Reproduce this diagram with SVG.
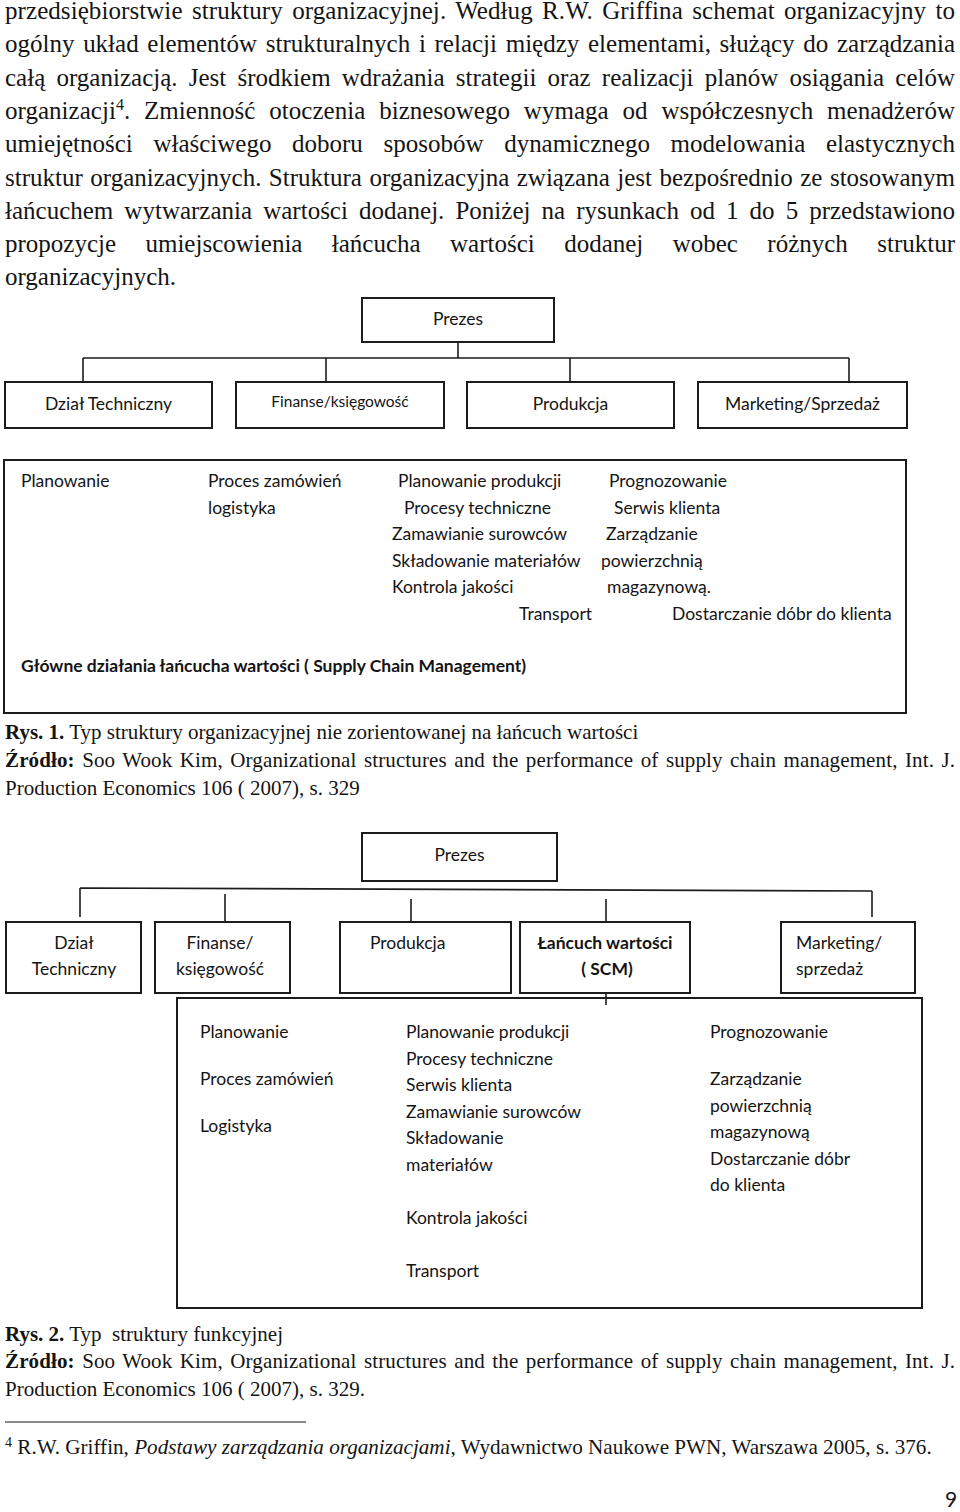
<svg xmlns="http://www.w3.org/2000/svg" width="960" height="1512" viewBox="0 0 960 1512">
<style>
.body{font-family:"Liberation Serif","Times New Roman",serif;font-size:25px;fill:#141414}
.cap{font-family:"Liberation Serif","Times New Roman",serif;font-size:21px;fill:#141414}
.fn{font-family:"Liberation Serif","Times New Roman",serif;font-size:21.15px;fill:#141414}
.b{font-weight:bold}
.it{font-style:italic}
.d{font-family:Lato,"Liberation Sans",sans-serif;font-size:17.5px;fill:#141414}
.ds{font-size:15.5px}
.pg{font-family:Lato,"Liberation Sans",sans-serif;font-size:21px;fill:#141414}
.mid{text-anchor:middle}
.box{fill:none;stroke:#1c1c1c;stroke-width:2}
.con{fill:none;stroke:#1c1c1c;stroke-width:1.6}
</style>
<rect width="960" height="1512" fill="#ffffff"/>

<g id="paragraph">
<text class="body" x="5" y="19" word-spacing="3.06" textLength="950" lengthAdjust="spacing">przedsiębiorstwie struktury organizacyjnej. Według R.W. Griffina schemat organizacyjny to</text>
<text class="body" x="5" y="52.3" word-spacing="2.45" textLength="950" lengthAdjust="spacing">ogólny układ elementów strukturalnych i relacji między elementami, służący do zarządzania</text>
<text class="body" x="5" y="85.6" word-spacing="4.96" textLength="950" lengthAdjust="spacing">całą organizacją. Jest środkiem wdrażania strategii oraz realizacji planów osiągania celów</text>
<text class="body" x="5" y="118.9" word-spacing="7.6" textLength="950" lengthAdjust="spacing">organizacji<tspan font-size="16" dy="-9">4</tspan><tspan dy="9">. Zmienność otoczenia biznesowego wymaga od współczesnych menadżerów</tspan></text>
<text class="body" x="5" y="152.2" word-spacing="14.4" textLength="950" lengthAdjust="spacing">umiejętności właściwego doboru sposobów dynamicznego modelowania elastycznych</text>
<text class="body" x="5" y="185.5" word-spacing="1.16" textLength="950" lengthAdjust="spacing">struktur organizacyjnych. Struktura organizacyjna związana jest bezpośrednio ze stosowanym</text>
<text class="body" x="5" y="218.8" word-spacing="4.8" textLength="950" lengthAdjust="spacing">łańcuchem wytwarzania wartości dodanej. Poniżej na rysunkach od 1 do 5 przedstawiono</text>
<text class="body" x="5" y="252.1" word-spacing="23.1" textLength="950" lengthAdjust="spacing">propozycje umiejscowienia łańcucha wartości dodanej wobec różnych struktur</text>
<text class="body" x="5" y="285.4">organizacyjnych.</text>
</g>

<g id="fig1-connectors">
<path class="con" d="M458,342 V358 M83,358 H849 M83,358 V382 M326,358 V382 M570,358 V382 M849,358 V382"/>
</g>

<g id="fig1-prezes">
<rect class="box" x="362" y="298" width="192" height="44"/>
<text class="d mid" x="458" y="325">Prezes</text>
</g>
<g id="fig1-dzial-techniczny">
<rect class="box" x="5" y="382" width="207" height="46"/>
<text class="d mid" x="108.5" y="410">Dział Techniczny</text>
</g>
<g id="fig1-finanse">
<rect class="box" x="236" y="382" width="208" height="46"/>
<text class="d ds mid" x="340" y="407">Finanse/księgowość</text>
</g>
<g id="fig1-produkcja">
<rect class="box" x="467" y="382" width="207" height="46"/>
<text class="d mid" x="570.5" y="410">Produkcja</text>
</g>
<g id="fig1-marketing">
<rect class="box" x="698" y="382" width="209" height="46"/>
<text class="d mid" x="802.5" y="410">Marketing/Sprzedaż</text>
</g>

<g id="fig1-scm">
<rect class="box" x="4" y="460" width="902" height="253"/>
<text class="d" x="21" y="487">Planowanie</text>
<text class="d" x="208" y="487">Proces zamówień</text>
<text class="d" x="208" y="513.5">logistyka</text>
<text class="d" x="398" y="487">Planowanie produkcji</text>
<text class="d" x="404" y="513.5">Procesy techniczne</text>
<text class="d" x="392" y="540">Zamawianie surowców</text>
<text class="d" x="392" y="566.5">Składowanie materiałów</text>
<text class="d" x="392" y="593">Kontrola jakości</text>
<text class="d" x="519" y="619.5">Transport</text>
<text class="d" x="609" y="487">Prognozowanie</text>
<text class="d" x="614" y="513.5">Serwis klienta</text>
<text class="d" x="606" y="540">Zarządzanie</text>
<text class="d" x="601" y="566.5">powierzchnią</text>
<text class="d" x="607" y="593">magazynową.</text>
<text class="d" x="672" y="619.5">Dostarczanie dóbr do klienta</text>
<text class="d b" x="21" y="672">Główne działania łańcucha wartości ( Supply Chain Management)</text>
</g>

<g id="fig1-caption">
<text class="cap" x="5" y="739"><tspan class="b">Rys. 1.</tspan> Typ struktury organizacyjnej nie zorientowanej na łańcuch wartości</text>
<text class="cap" x="5" y="767" word-spacing="2.04" textLength="950" lengthAdjust="spacing"><tspan class="b">Źródło:</tspan> Soo Wook Kim, Organizational structures and the performance of supply chain management, Int. J.</text>
<text class="cap" x="5" y="795">Production Economics 106 ( 2007), s. 329</text>
</g>

<g id="fig2-connectors">
<path class="con" d="M80,888 L872,891 M80,888 V917 M225,894 V921 M411,899 V922 M606,899 V922 M872,891 V917 M606,993 V1005"/>
</g>

<g id="fig2-prezes">
<rect class="box" x="362" y="833" width="195" height="48"/>
<text class="d mid" x="459.5" y="861">Prezes</text>
</g>
<g id="fig2-dzial-techniczny">
<rect class="box" x="6" y="922" width="135" height="71"/>
<text class="d mid" x="74" y="949">Dział</text>
<text class="d mid" x="74" y="975">Techniczny</text>
</g>
<g id="fig2-finanse">
<rect class="box" x="155" y="922" width="135" height="71"/>
<text class="d mid" x="220" y="949">Finanse/</text>
<text class="d mid" x="220" y="975">księgowość</text>
</g>
<g id="fig2-produkcja">
<rect class="box" x="340" y="922" width="171" height="71"/>
<text class="d" x="370" y="949">Produkcja</text>
</g>
<g id="fig2-lancuch">
<rect class="box" x="520" y="922" width="170" height="71"/>
<text class="d b mid" x="605" y="949">Łańcuch wartości</text>
<text class="d b mid" x="607" y="975">( SCM)</text>
</g>
<g id="fig2-marketing">
<rect class="box" x="781" y="922" width="134" height="71"/>
<text class="d" x="796" y="949">Marketing/</text>
<text class="d" x="796" y="975">sprzedaż</text>
</g>

<g id="fig2-scm">
<rect class="box" x="177" y="998" width="745" height="310"/>
<text class="d" x="200" y="1038">Planowanie</text>
<text class="d" x="200" y="1085">Proces zamówień</text>
<text class="d" x="200" y="1132">Logistyka</text>
<text class="d" x="406" y="1038">Planowanie produkcji</text>
<text class="d" x="406" y="1064.5">Procesy techniczne</text>
<text class="d" x="406" y="1091">Serwis klienta</text>
<text class="d" x="406" y="1117.5">Zamawianie surowców</text>
<text class="d" x="406" y="1144">Składowanie</text>
<text class="d" x="406" y="1170.5">materiałów</text>
<text class="d" x="406" y="1223.5">Kontrola jakości</text>
<text class="d" x="406" y="1277">Transport</text>
<text class="d" x="710" y="1038">Prognozowanie</text>
<text class="d" x="710" y="1085">Zarządzanie</text>
<text class="d" x="710" y="1111.5">powierzchnią</text>
<text class="d" x="710" y="1138">magazynową</text>
<text class="d" x="710" y="1164.5">Dostarczanie dóbr</text>
<text class="d" x="710" y="1191">do klienta</text>
</g>

<g id="fig2-caption">
<text class="cap" x="5" y="1341" xml:space="preserve"><tspan class="b">Rys. 2.</tspan> Typ  struktury funkcyjnej</text>
<text class="cap" x="5" y="1368" word-spacing="2.04" textLength="950" lengthAdjust="spacing"><tspan class="b">Źródło:</tspan> Soo Wook Kim, Organizational structures and the performance of supply chain management, Int. J.</text>
<text class="cap" x="5" y="1396">Production Economics 106 ( 2007), s. 329.</text>
</g>

<g id="footnote">
<line x1="5" y1="1422" x2="306" y2="1422" stroke="#141414" stroke-width="1.2"/>
<text class="fn" x="5" y="1454"><tspan font-size="14" dy="-7">4</tspan><tspan dy="7"> R.W. Griffin, </tspan><tspan class="it">Podstawy zarządzania organizacjami</tspan>, Wydawnictwo Naukowe PWN, Warszawa 2005, s. 376.</text>
</g>

<g id="page-number">
<text class="pg" x="945" y="1507">9</text>
</g>
</svg>
